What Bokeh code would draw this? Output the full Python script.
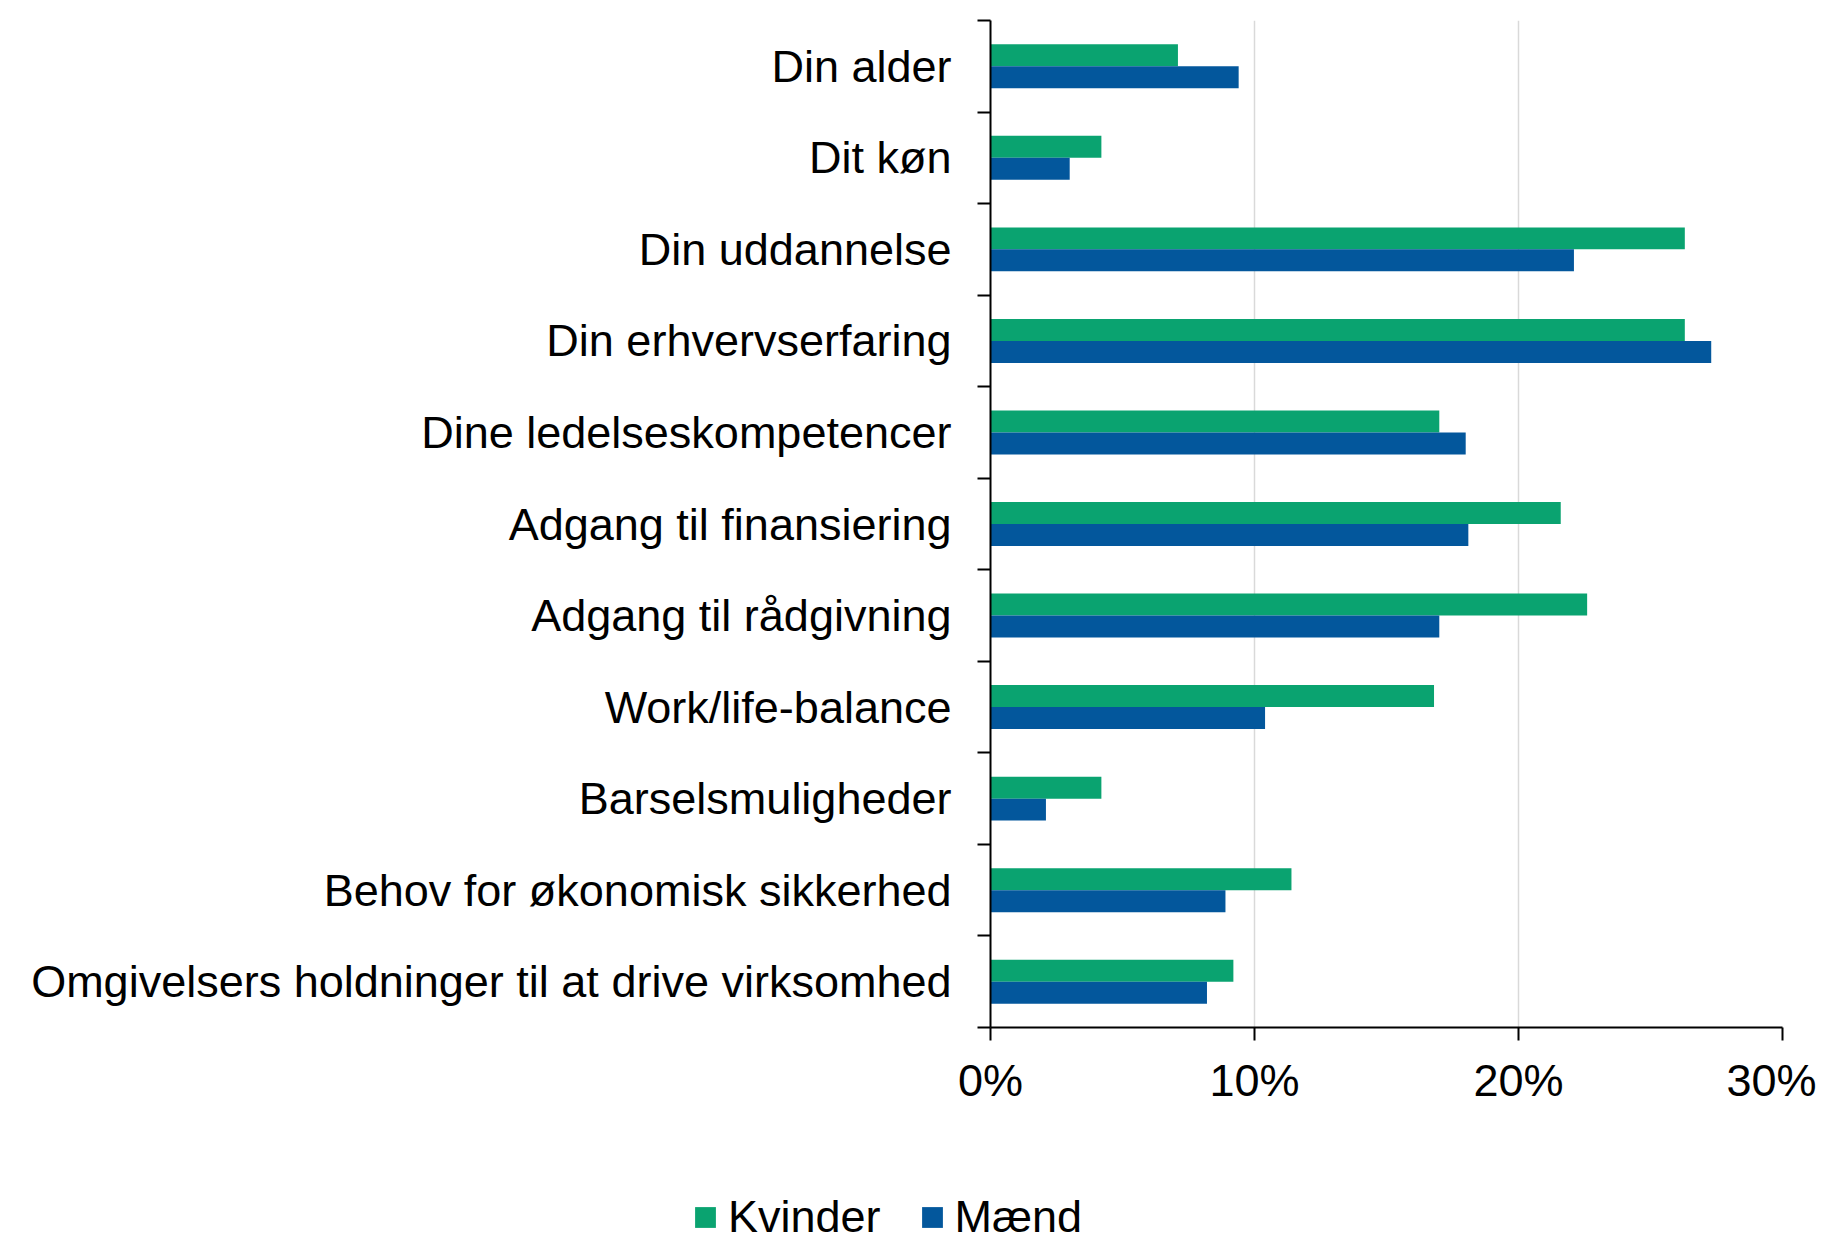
from bokeh.plotting import figure
from bokeh.layouts import column, row
from bokeh.models import Range1d, FixedTicker, Legend, LegendItem, ColumnDataSource
from bokeh.embed import file_html
from bokeh.resources import INLINE

categories = ["Din alder", "Dit køn", "Din uddannelse", "Din erhvervserfaring",
              "Dine ledelseskompetencer", "Adgang til finansiering", "Adgang til rådgivning",
              "Work/life-balance", "Barselsmuligheder", "Behov for økonomisk sikkerhed",
              "Omgivelsers holdninger til at drive virksomhed"]
kvinder = [7.1, 4.2, 26.3, 26.3, 17.0, 21.6, 22.6, 16.8, 4.2, 11.4, 9.2]
maend = [9.4, 3.0, 22.1, 27.3, 18.0, 18.1, 17.0, 10.4, 2.1, 8.9, 8.2]
series_names = ["Kvinder", "Mænd"]
x_ticks = [0, 10, 20, 30]
x_tick_labels = ["0%", "10%", "20%", "30%"]

GREEN = "#0aa370"
BLUE = "#03579c"
FONT = "Liberation Sans"

n = len(categories)
centers = [i + 0.5 for i in range(n)]
bounds = list(range(n + 1))
bar_h = 0.24

src_k = ColumnDataSource(dict(y=[c - bar_h / 2 for c in centers], v=kvinder))
src_m = ColumnDataSource(dict(y=[c + bar_h / 2 for c in centers], v=maend))

W = 1816
MAIN_H = 1139
LEG_H = 104

p = figure(width=W, height=MAIN_H, x_range=Range1d(0, 30), y_range=Range1d(n, 0),
           output_backend="svg", toolbar_location=None,
           min_border_left=990, min_border_right=34, min_border_top=20,
           min_border_bottom=MAIN_H - 1027)
p.outline_line_color = None

rk = p.hbar(y="y", right="v", left=0, height=bar_h, source=src_k, fill_color=GREEN, line_color=None)
rm = p.hbar(y="y", right="v", left=0, height=bar_h, source=src_m, fill_color=BLUE, line_color=None)

xa = p.xaxis[0]
xa.ticker = FixedTicker(ticks=x_ticks)
xa.major_label_overrides = {t: l for t, l in zip(x_ticks, x_tick_labels)}
xa.major_label_text_font = FONT
xa.major_label_text_font_size = "45px"
xa.major_label_text_color = "black"
xa.axis_line_color = "black"
xa.axis_line_width = 2
xa.major_tick_line_color = "black"
xa.major_tick_line_width = 2
xa.major_tick_out = 13
xa.major_tick_in = 0
xa.minor_tick_line_color = None
xa.major_label_standoff = 14

ya = p.yaxis[0]
ya.ticker = FixedTicker(ticks=centers, minor_ticks=bounds)
ya.major_label_overrides = {c: name for c, name in zip(centers, categories)}
ya.major_label_text_font = FONT
ya.major_label_text_font_size = "45px"
ya.major_label_text_color = "black"
ya.major_tick_line_color = None
ya.major_tick_out = 0
ya.major_tick_in = 0
ya.minor_tick_line_color = "black"
ya.minor_tick_line_width = 2
ya.minor_tick_out = 13
ya.minor_tick_in = 0
ya.axis_line_color = "black"
ya.axis_line_width = 2
ya.major_label_standoff = 26

p.ygrid.grid_line_color = None
p.xgrid.ticker = FixedTicker(ticks=x_ticks[1:])
p.xgrid.grid_line_color = "#d9d9d9"
p.xgrid.grid_line_width = 1.5

# separate strip for the legend (its y range lies away from the bars, so none are drawn there)
lf = figure(width=W, height=LEG_H, x_range=Range1d(0, 30), y_range=Range1d(100, 101),
            output_backend="svg", toolbar_location=None,
            x_axis_location=None, y_axis_location=None,
            min_border_left=0, min_border_right=0, min_border_top=0, min_border_bottom=0)
lf.outline_line_color = None
lf.xgrid.grid_line_color = None
lf.ygrid.grid_line_color = None
lk = lf.hbar(y="y", right="v", left=0, height=bar_h, source=src_k, fill_color=GREEN, line_color=None)
lm = lf.hbar(y="y", right="v", left=0, height=bar_h, source=src_m, fill_color=BLUE, line_color=None)

legend = Legend(items=[LegendItem(label=series_names[0], renderers=[lk]),
                       LegendItem(label=series_names[1], renderers=[lm])],
                orientation="horizontal", location=(692, 0),
                padding=0, margin=0, spacing=38, label_standoff=10,
                glyph_width=26, glyph_height=26,
                label_text_font=FONT, label_text_font_size="45px",
                label_text_color="black",
                border_line_color=None, background_fill_alpha=0)
lf.add_layout(legend, "center")

layout = column(p, row(lf), spacing=0)
open("out.html", "w").write(file_html(layout, INLINE))
